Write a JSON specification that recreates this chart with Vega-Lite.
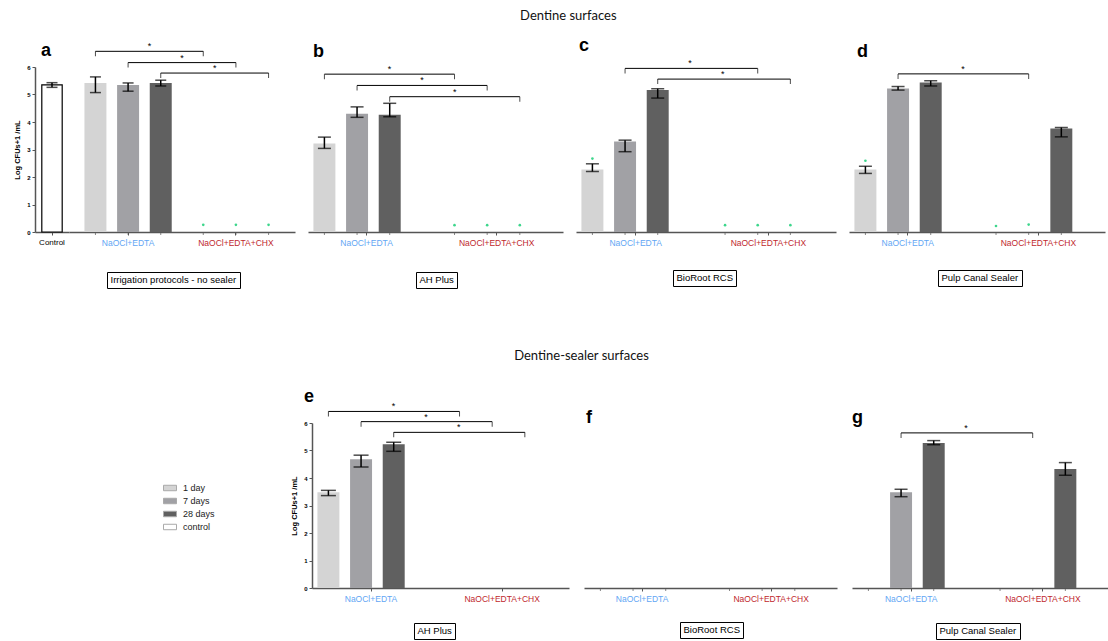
{
  "$schema": "https://vega.github.io/schema/vega-lite/v6.json",
  "padding": {"left": 13, "top": 10, "right": 0, "bottom": 0},
  "background": "white",
  "datasets": {
    "bars": [
      {"panel": "a", "group": "Control", "time": "control", "mean": 5.35, "lo": 5.26, "hi": 5.43},
      {"panel": "a", "group": "NaOCl+EDTA", "time": "1 day", "mean": 5.42, "lo": 5.07, "hi": 5.64},
      {"panel": "a", "group": "NaOCl+EDTA", "time": "7 days", "mean": 5.35, "lo": 5.12, "hi": 5.42},
      {"panel": "a", "group": "NaOCl+EDTA", "time": "28 days", "mean": 5.42, "lo": 5.31, "hi": 5.52},
      {"panel": "b", "group": "NaOCl+EDTA", "time": "1 day", "mean": 3.22, "lo": 3.04, "hi": 3.45},
      {"panel": "b", "group": "NaOCl+EDTA", "time": "7 days", "mean": 4.30, "lo": 4.17, "hi": 4.55},
      {"panel": "b", "group": "NaOCl+EDTA", "time": "28 days", "mean": 4.26, "lo": 4.19, "hi": 4.68},
      {"panel": "c", "group": "NaOCl+EDTA", "time": "1 day", "mean": 2.27, "lo": 2.20, "hi": 2.48},
      {"panel": "c", "group": "NaOCl+EDTA", "time": "7 days", "mean": 3.29, "lo": 2.92, "hi": 3.34},
      {"panel": "c", "group": "NaOCl+EDTA", "time": "28 days", "mean": 5.16, "lo": 4.87, "hi": 5.21},
      {"panel": "d", "group": "NaOCl+EDTA", "time": "1 day", "mean": 2.27, "lo": 2.13, "hi": 2.39},
      {"panel": "d", "group": "NaOCl+EDTA", "time": "7 days", "mean": 5.22, "lo": 5.16, "hi": 5.29},
      {"panel": "d", "group": "NaOCl+EDTA", "time": "28 days", "mean": 5.44, "lo": 5.31, "hi": 5.50},
      {"panel": "d", "group": "NaOCl+EDTA+CHX", "time": "28 days", "mean": 3.76, "lo": 3.46, "hi": 3.80},
      {"panel": "e", "group": "NaOCl+EDTA", "time": "1 day", "mean": 3.48, "lo": 3.36, "hi": 3.55},
      {"panel": "e", "group": "NaOCl+EDTA", "time": "7 days", "mean": 4.68, "lo": 4.40, "hi": 4.83},
      {"panel": "e", "group": "NaOCl+EDTA", "time": "28 days", "mean": 5.23, "lo": 4.97, "hi": 5.30},
      {"panel": "g", "group": "NaOCl+EDTA", "time": "7 days", "mean": 3.48, "lo": 3.32, "hi": 3.59},
      {"panel": "g", "group": "NaOCl+EDTA", "time": "28 days", "mean": 5.27, "lo": 5.21, "hi": 5.36},
      {"panel": "g", "group": "NaOCl+EDTA+CHX", "time": "28 days", "mean": 4.33, "lo": 4.10, "hi": 4.56}
    ],
    "slots": [
      {"group": "NaOCl+EDTA", "time": "1 day"},
      {"group": "NaOCl+EDTA", "time": "7 days"},
      {"group": "NaOCl+EDTA", "time": "28 days"},
      {"group": "NaOCl+EDTA+CHX", "time": "1 day"},
      {"group": "NaOCl+EDTA+CHX", "time": "7 days"},
      {"group": "NaOCl+EDTA+CHX", "time": "28 days"}
    ],
    "dots": [
      {"panel": "a", "group": "NaOCl+EDTA+CHX", "time": "1 day", "value": 0.26},
      {"panel": "a", "group": "NaOCl+EDTA+CHX", "time": "7 days", "value": 0.26},
      {"panel": "a", "group": "NaOCl+EDTA+CHX", "time": "28 days", "value": 0.26},
      {"panel": "b", "group": "NaOCl+EDTA+CHX", "time": "1 day", "value": 0.25},
      {"panel": "b", "group": "NaOCl+EDTA+CHX", "time": "7 days", "value": 0.25},
      {"panel": "b", "group": "NaOCl+EDTA+CHX", "time": "28 days", "value": 0.25},
      {"panel": "c", "group": "NaOCl+EDTA", "time": "1 day", "value": 2.67},
      {"panel": "c", "group": "NaOCl+EDTA+CHX", "time": "1 day", "value": 0.25},
      {"panel": "c", "group": "NaOCl+EDTA+CHX", "time": "7 days", "value": 0.25},
      {"panel": "c", "group": "NaOCl+EDTA+CHX", "time": "28 days", "value": 0.25},
      {"panel": "d", "group": "NaOCl+EDTA", "time": "1 day", "value": 2.59},
      {"panel": "d", "group": "NaOCl+EDTA+CHX", "time": "1 day", "value": 0.22},
      {"panel": "d", "group": "NaOCl+EDTA+CHX", "time": "7 days", "value": 0.27}
    ],
    "brackets": [
      {"panel": "a", "id": "a1", "group": "NaOCl+EDTA", "time": "1 day", "level": 6.57},
      {"panel": "a", "id": "a1", "group": "NaOCl+EDTA+CHX", "time": "1 day", "level": 6.57},
      {"panel": "a", "id": "a2", "group": "NaOCl+EDTA", "time": "7 days", "level": 6.16},
      {"panel": "a", "id": "a2", "group": "NaOCl+EDTA+CHX", "time": "7 days", "level": 6.16},
      {"panel": "a", "id": "a3", "group": "NaOCl+EDTA", "time": "28 days", "level": 5.78},
      {"panel": "a", "id": "a3", "group": "NaOCl+EDTA+CHX", "time": "28 days", "level": 5.78},
      {"panel": "b", "id": "b1", "group": "NaOCl+EDTA", "time": "1 day", "level": 5.74},
      {"panel": "b", "id": "b1", "group": "NaOCl+EDTA+CHX", "time": "1 day", "level": 5.74},
      {"panel": "b", "id": "b2", "group": "NaOCl+EDTA", "time": "7 days", "level": 5.33},
      {"panel": "b", "id": "b2", "group": "NaOCl+EDTA+CHX", "time": "7 days", "level": 5.33},
      {"panel": "b", "id": "b3", "group": "NaOCl+EDTA", "time": "28 days", "level": 4.92},
      {"panel": "b", "id": "b3", "group": "NaOCl+EDTA+CHX", "time": "28 days", "level": 4.92},
      {"panel": "c", "id": "c1", "group": "NaOCl+EDTA", "time": "7 days", "level": 5.95},
      {"panel": "c", "id": "c1", "group": "NaOCl+EDTA+CHX", "time": "7 days", "level": 5.95},
      {"panel": "c", "id": "c2", "group": "NaOCl+EDTA", "time": "28 days", "level": 5.56},
      {"panel": "c", "id": "c2", "group": "NaOCl+EDTA+CHX", "time": "28 days", "level": 5.56},
      {"panel": "d", "id": "d1", "group": "NaOCl+EDTA", "time": "7 days", "level": 5.75},
      {"panel": "d", "id": "d1", "group": "NaOCl+EDTA+CHX", "time": "7 days", "level": 5.75},
      {"panel": "e", "id": "e1", "group": "NaOCl+EDTA", "time": "1 day", "level": 6.42},
      {"panel": "e", "id": "e1", "group": "NaOCl+EDTA+CHX", "time": "1 day", "level": 6.42},
      {"panel": "e", "id": "e2", "group": "NaOCl+EDTA", "time": "7 days", "level": 6.05},
      {"panel": "e", "id": "e2", "group": "NaOCl+EDTA+CHX", "time": "7 days", "level": 6.05},
      {"panel": "e", "id": "e3", "group": "NaOCl+EDTA", "time": "28 days", "level": 5.66},
      {"panel": "e", "id": "e3", "group": "NaOCl+EDTA+CHX", "time": "28 days", "level": 5.66},
      {"panel": "g", "id": "g1", "group": "NaOCl+EDTA", "time": "7 days", "level": 5.64},
      {"panel": "g", "id": "g1", "group": "NaOCl+EDTA+CHX", "time": "7 days", "level": 5.64}
    ]
  },
  "config": {
    "view": {"stroke": null},
    "font": "Liberation Sans",
    "axis": {"domainColor": "#555555", "domainWidth": 1.5, "tickColor": "#555555", "tickWidth": 1, "tickSize": 3, "labelFont": "Liberation Sans", "titleFont": "Liberation Sans", "grid": false, "labelOverlap": false},
    "axisX": {"labelAngle": 0, "labelFontSize": 8.5, "labelPadding": 3, "title": null},
    "axisY": {"labelFontSize": 6, "labelFontWeight": "bold", "labelColor": "#000000", "labelPadding": 2, "labelOverlap": false, "labelBound": false, "titleFontSize": 7.5, "titleFontWeight": "bold", "titlePadding": 5, "titleColor": "#000000"}
  },
  "spacing": 61,
  "resolve": {"scale": {"x": "independent", "y": "independent", "fill": "independent", "shape": "independent"}, "legend": {"fill": "independent", "shape": "independent"}},
  "vconcat": [
    {
      "title": {"text": "Dentine surfaces", "anchor": "middle", "font": "Lato", "fontSize": 13, "fontWeight": "normal", "color": "#111111", "offset": 14, "dx": 9},
      "spacing": 13,
      "resolve": {"scale": {"x": "independent", "y": "independent", "fill": "independent", "shape": "independent"}, "legend": {"fill": "independent", "shape": "independent"}},
      "hconcat": [
        {
          "spacing": 0,
          "resolve": {"scale": {"x": "independent", "y": "independent", "fill": "independent", "shape": "independent"}, "legend": {"fill": "independent", "shape": "independent"}},
          "hconcat": [
            {
              "width": 34, "height": 165,
              "title": {"text": "a", "anchor": "start", "frame": "group", "font": "Liberation Sans", "fontSize": 18, "fontWeight": "bold", "color": "#000000", "dx": 6, "dy": 2, "offset": 6},
              "data": {"name": "bars"},
              "transform": [{"filter": "datum.panel == 'a' && datum.group == 'Control'"}],
              "encoding": {
                "x": {"field": "group", "type": "nominal", "scale": {"domain": ["Control"], "paddingInner": 0.4, "paddingOuter": 0.2}, "axis": {"title": null, "labelColor": "#000000", "labelFontSize": 8}},
                "y": {"field": "mean", "type": "quantitative", "scale": {"domain": [0, 6], "nice": false}, "axis": {"title": "Log CFUs+1 /mL", "tickCount": 6, "labelOverlap": false}}
              },
              "layer": [
                {"mark": {"type": "bar", "fill": "#ffffff", "stroke": "#000000", "strokeWidth": 1.2}},
                {"mark": {"type": "rule", "color": "#000000", "strokeWidth": 1.5},
                 "encoding": {"y": {"field": "lo", "type": "quantitative"}, "y2": {"field": "hi"}}},
                {"mark": {"type": "tick", "orient": "horizontal", "size": 11, "thickness": 1.5, "color": "#000000"},
                 "encoding": {"y": {"field": "lo", "type": "quantitative"}}},
                {"mark": {"type": "tick", "orient": "horizontal", "size": 11, "thickness": 1.5, "color": "#000000"},
                 "encoding": {"y": {"field": "hi", "type": "quantitative"}}}
              ]
            },
            {
              "width": 226, "height": 165,
              "encoding": {
                "x": {"field": "group", "type": "nominal", "scale": {"domain": ["NaOCl+EDTA", "NaOCl+EDTA+CHX"], "paddingInner": 0.09, "paddingOuter": 0.093},
                      "axis": {"title": null, "labelColor": {"condition": {"test": "datum.value === 'NaOCl+EDTA'", "value": "#62a6f4"}, "value": "#c0282d"}}},
                "xOffset": {"field": "time", "type": "nominal", "scale": {"domain": ["1 day", "7 days", "28 days"], "paddingInner": 0.327, "paddingOuter": 0.166}}
              },
              "layer": [
                {"data": {"name": "bars"}, "transform": [{"filter": "datum.panel == 'a' && datum.group != 'Control'"}],
                 "mark": {"type": "bar"},
                 "encoding": {"y": {"field": "mean", "type": "quantitative", "scale": {"domain": [0, 6], "nice": false}, "axis": null},
                              "fill": {"field": "time", "type": "nominal", "scale": {"domain": ["1 day", "7 days", "28 days", "control"], "range": ["#d4d4d4", "#a1a1a5", "#606060", "#ffffff"]}, "legend": null}}},
                {"data": {"name": "slots"},
                 "mark": {"type": "tick", "orient": "vertical", "size": 3, "thickness": 1, "yOffset": 1.5, "color": "#555555"},
                 "encoding": {"y": {"datum": 0, "type": "quantitative"}}},
                {"data": {"name": "bars"}, "transform": [{"filter": "datum.panel == 'a' && datum.group != 'Control'"}],
                 "mark": {"type": "rule", "color": "#000000", "strokeWidth": 1.5},
                 "encoding": {"y": {"field": "lo", "type": "quantitative"}, "y2": {"field": "hi"}}},
                {"data": {"name": "bars"}, "transform": [{"filter": "datum.panel == 'a' && datum.group != 'Control'"}],
                 "mark": {"type": "tick", "orient": "horizontal", "size": 11, "thickness": 1.5, "color": "#000000"},
                 "encoding": {"y": {"field": "lo", "type": "quantitative"}}},
                {"data": {"name": "bars"}, "transform": [{"filter": "datum.panel == 'a' && datum.group != 'Control'"}],
                 "mark": {"type": "tick", "orient": "horizontal", "size": 11, "thickness": 1.5, "color": "#000000"},
                 "encoding": {"y": {"field": "hi", "type": "quantitative"}}},
                {"data": {"name": "dots"}, "transform": [{"filter": "datum.panel == 'a'"}],
                 "mark": {"type": "point", "filled": true, "size": 7, "color": "#3dd68c", "opacity": 1},
                 "encoding": {"y": {"field": "value", "type": "quantitative"},
                              "shape": {"datum": "Irrigation protocols - no sealer", "scale": {"domain": ["Irrigation protocols - no sealer"], "range": ["circle"]},
                                        "legend": {"orient": "none", "legendX": 38, "legendY": 205, "title": null, "strokeColor": "#000000", "fillColor": "#ffffff", "padding": 3, "symbolSize": 0, "symbolOpacity": 0, "symbolStrokeWidth": 0, "labelOffset": -9, "labelFontSize": 9.5, "labelFont": "Liberation Sans", "labelColor": "#000000"}}}},
                {"data": {"name": "brackets"}, "transform": [{"filter": "datum.panel == 'a'"}],
                 "mark": {"type": "line", "color": "#000000", "strokeWidth": 1},
                 "encoding": {"y": {"field": "level", "type": "quantitative"}, "detail": {"field": "id", "type": "nominal"}}},
                {"data": {"name": "brackets"}, "transform": [{"filter": "datum.panel == 'a'"}],
                 "mark": {"type": "tick", "orient": "vertical", "size": 5, "thickness": 1, "yOffset": 2.5, "color": "#000000"},
                 "encoding": {"y": {"field": "level", "type": "quantitative"}}},
                {"data": {"name": "brackets"}, "transform": [{"filter": "datum.panel == 'a' && datum.group == 'NaOCl+EDTA'"}],
                 "mark": {"type": "text", "text": "*", "dx": 54, "dy": -2, "fontSize": 9, "baseline": "alphabetic", "color": "#000000"},
                 "encoding": {"y": {"field": "level", "type": "quantitative"}}}
              ]
            }
          ]
        },
        {
          "width": 255, "height": 165,
          "title": {"text": "b", "anchor": "start", "frame": "group", "font": "Liberation Sans", "fontSize": 18, "fontWeight": "bold", "color": "#000000", "dx": 5, "dy": 2, "offset": 6},
          "encoding": {
            "x": {"field": "group", "type": "nominal", "scale": {"domain": ["NaOCl+EDTA", "NaOCl+EDTA+CHX"], "paddingInner": 0.1, "paddingOuter": 0.03, "align": 0},
                  "axis": {"title": null, "labelColor": {"condition": {"test": "datum.value === 'NaOCl+EDTA'", "value": "#62a6f4"}, "value": "#c0282d"}}},
            "xOffset": {"field": "time", "type": "nominal", "scale": {"domain": ["1 day", "7 days", "28 days"], "paddingInner": 0.31, "paddingOuter": 0.155}}
          },
          "layer": [
            {"data": {"name": "bars"}, "transform": [{"filter": "datum.panel == 'b'"}],
             "mark": {"type": "bar"},
             "encoding": {"y": {"field": "mean", "type": "quantitative", "scale": {"domain": [0, 6], "nice": false}, "axis": null},
                          "fill": {"field": "time", "type": "nominal", "scale": {"domain": ["1 day", "7 days", "28 days", "control"], "range": ["#d4d4d4", "#a1a1a5", "#606060", "#ffffff"]}, "legend": null}}},
            {"data": {"name": "slots"},
             "mark": {"type": "tick", "orient": "vertical", "size": 3, "thickness": 1, "yOffset": 1.5, "color": "#555555"},
             "encoding": {"y": {"datum": 0, "type": "quantitative"}}},
            {"data": {"name": "bars"}, "transform": [{"filter": "datum.panel == 'b'"}],
             "mark": {"type": "rule", "color": "#000000", "strokeWidth": 1.5},
             "encoding": {"y": {"field": "lo", "type": "quantitative"}, "y2": {"field": "hi"}}},
            {"data": {"name": "bars"}, "transform": [{"filter": "datum.panel == 'b'"}],
             "mark": {"type": "tick", "orient": "horizontal", "size": 13, "thickness": 1.5, "color": "#000000"},
             "encoding": {"y": {"field": "lo", "type": "quantitative"}}},
            {"data": {"name": "bars"}, "transform": [{"filter": "datum.panel == 'b'"}],
             "mark": {"type": "tick", "orient": "horizontal", "size": 13, "thickness": 1.5, "color": "#000000"},
             "encoding": {"y": {"field": "hi", "type": "quantitative"}}},
            {"data": {"name": "dots"}, "transform": [{"filter": "datum.panel == 'b'"}],
             "mark": {"type": "point", "filled": true, "size": 7, "color": "#3dd68c", "opacity": 1},
             "encoding": {"y": {"field": "value", "type": "quantitative"},
                          "shape": {"datum": "AH Plus", "scale": {"domain": ["AH Plus"], "range": ["circle"]},
                                    "legend": {"orient": "none", "legendX": 108, "legendY": 205, "title": null, "strokeColor": "#000000", "fillColor": "#ffffff", "padding": 3, "symbolSize": 0, "symbolOpacity": 0, "symbolStrokeWidth": 0, "labelOffset": -9, "labelFontSize": 9.5, "labelFont": "Liberation Sans", "labelColor": "#000000"}}}},
            {"data": {"name": "brackets"}, "transform": [{"filter": "datum.panel == 'b'"}],
             "mark": {"type": "line", "color": "#000000", "strokeWidth": 1},
             "encoding": {"y": {"field": "level", "type": "quantitative"}, "detail": {"field": "id", "type": "nominal"}}},
            {"data": {"name": "brackets"}, "transform": [{"filter": "datum.panel == 'b'"}],
             "mark": {"type": "tick", "orient": "vertical", "size": 5, "thickness": 1, "yOffset": 2.5, "color": "#000000"},
             "encoding": {"y": {"field": "level", "type": "quantitative"}}},
            {"data": {"name": "brackets"}, "transform": [{"filter": "datum.panel == 'b' && datum.group == 'NaOCl+EDTA'"}],
             "mark": {"type": "text", "text": "*", "dx": 65, "dy": -2, "fontSize": 9, "baseline": "alphabetic", "color": "#000000"},
             "encoding": {"y": {"field": "level", "type": "quantitative"}}}
          ]
        },
        {
          "width": 260, "height": 165,
          "title": {"text": "c", "anchor": "start", "frame": "group", "font": "Liberation Sans", "fontSize": 18, "fontWeight": "bold", "color": "#000000", "dx": 3, "dy": 2, "offset": 6},
          "encoding": {
            "x": {"field": "group", "type": "nominal", "scale": {"domain": ["NaOCl+EDTA", "NaOCl+EDTA+CHX"], "paddingInner": 0.1, "paddingOuter": 0.03, "align": 0},
                  "axis": {"title": null, "labelColor": {"condition": {"test": "datum.value === 'NaOCl+EDTA'", "value": "#62a6f4"}, "value": "#c0282d"}}},
            "xOffset": {"field": "time", "type": "nominal", "scale": {"domain": ["1 day", "7 days", "28 days"], "paddingInner": 0.31, "paddingOuter": 0.155}}
          },
          "layer": [
            {"data": {"name": "bars"}, "transform": [{"filter": "datum.panel == 'c'"}],
             "mark": {"type": "bar"},
             "encoding": {"y": {"field": "mean", "type": "quantitative", "scale": {"domain": [0, 6], "nice": false}, "axis": null},
                          "fill": {"field": "time", "type": "nominal", "scale": {"domain": ["1 day", "7 days", "28 days", "control"], "range": ["#d4d4d4", "#a1a1a5", "#606060", "#ffffff"]}, "legend": null}}},
            {"data": {"name": "slots"},
             "mark": {"type": "tick", "orient": "vertical", "size": 3, "thickness": 1, "yOffset": 1.5, "color": "#555555"},
             "encoding": {"y": {"datum": 0, "type": "quantitative"}}},
            {"data": {"name": "bars"}, "transform": [{"filter": "datum.panel == 'c'"}],
             "mark": {"type": "rule", "color": "#000000", "strokeWidth": 1.5},
             "encoding": {"y": {"field": "lo", "type": "quantitative"}, "y2": {"field": "hi"}}},
            {"data": {"name": "bars"}, "transform": [{"filter": "datum.panel == 'c'"}],
             "mark": {"type": "tick", "orient": "horizontal", "size": 13, "thickness": 1.5, "color": "#000000"},
             "encoding": {"y": {"field": "lo", "type": "quantitative"}}},
            {"data": {"name": "bars"}, "transform": [{"filter": "datum.panel == 'c'"}],
             "mark": {"type": "tick", "orient": "horizontal", "size": 13, "thickness": 1.5, "color": "#000000"},
             "encoding": {"y": {"field": "hi", "type": "quantitative"}}},
            {"data": {"name": "dots"}, "transform": [{"filter": "datum.panel == 'c'"}],
             "mark": {"type": "point", "filled": true, "size": 7, "color": "#3dd68c", "opacity": 1},
             "encoding": {"y": {"field": "value", "type": "quantitative"},
                          "shape": {"datum": "BioRoot RCS", "scale": {"domain": ["BioRoot RCS"], "range": ["circle"]},
                                    "legend": {"orient": "none", "legendX": 97, "legendY": 203, "title": null, "strokeColor": "#000000", "fillColor": "#ffffff", "padding": 3, "symbolSize": 0, "symbolOpacity": 0, "symbolStrokeWidth": 0, "labelOffset": -9, "labelFontSize": 9.5, "labelFont": "Liberation Sans", "labelColor": "#000000"}}}},
            {"data": {"name": "brackets"}, "transform": [{"filter": "datum.panel == 'c'"}],
             "mark": {"type": "line", "color": "#000000", "strokeWidth": 1},
             "encoding": {"y": {"field": "level", "type": "quantitative"}, "detail": {"field": "id", "type": "nominal"}}},
            {"data": {"name": "brackets"}, "transform": [{"filter": "datum.panel == 'c'"}],
             "mark": {"type": "tick", "orient": "vertical", "size": 5, "thickness": 1, "yOffset": 2.5, "color": "#000000"},
             "encoding": {"y": {"field": "level", "type": "quantitative"}}},
            {"data": {"name": "brackets"}, "transform": [{"filter": "datum.panel == 'c' && datum.group == 'NaOCl+EDTA'"}],
             "mark": {"type": "text", "text": "*", "dx": 65, "dy": -2, "fontSize": 9, "baseline": "alphabetic", "color": "#000000"},
             "encoding": {"y": {"field": "level", "type": "quantitative"}}}
          ]
        },
        {
          "width": 256, "height": 165,
          "title": {"text": "d", "anchor": "start", "frame": "group", "font": "Liberation Sans", "fontSize": 18, "fontWeight": "bold", "color": "#000000", "dx": 8, "dy": 2, "offset": 6},
          "encoding": {
            "x": {"field": "group", "type": "nominal", "scale": {"domain": ["NaOCl+EDTA", "NaOCl+EDTA+CHX"], "paddingInner": 0.1, "paddingOuter": 0.03, "align": 0},
                  "axis": {"title": null, "labelColor": {"condition": {"test": "datum.value === 'NaOCl+EDTA'", "value": "#62a6f4"}, "value": "#c0282d"}}},
            "xOffset": {"field": "time", "type": "nominal", "scale": {"domain": ["1 day", "7 days", "28 days"], "paddingInner": 0.31, "paddingOuter": 0.155}}
          },
          "layer": [
            {"data": {"name": "bars"}, "transform": [{"filter": "datum.panel == 'd'"}],
             "mark": {"type": "bar"},
             "encoding": {"y": {"field": "mean", "type": "quantitative", "scale": {"domain": [0, 6], "nice": false}, "axis": null},
                          "fill": {"field": "time", "type": "nominal", "scale": {"domain": ["1 day", "7 days", "28 days", "control"], "range": ["#d4d4d4", "#a1a1a5", "#606060", "#ffffff"]}, "legend": null}}},
            {"data": {"name": "slots"},
             "mark": {"type": "tick", "orient": "vertical", "size": 3, "thickness": 1, "yOffset": 1.5, "color": "#555555"},
             "encoding": {"y": {"datum": 0, "type": "quantitative"}}},
            {"data": {"name": "bars"}, "transform": [{"filter": "datum.panel == 'd'"}],
             "mark": {"type": "rule", "color": "#000000", "strokeWidth": 1.5},
             "encoding": {"y": {"field": "lo", "type": "quantitative"}, "y2": {"field": "hi"}}},
            {"data": {"name": "bars"}, "transform": [{"filter": "datum.panel == 'd'"}],
             "mark": {"type": "tick", "orient": "horizontal", "size": 13, "thickness": 1.5, "color": "#000000"},
             "encoding": {"y": {"field": "lo", "type": "quantitative"}}},
            {"data": {"name": "bars"}, "transform": [{"filter": "datum.panel == 'd'"}],
             "mark": {"type": "tick", "orient": "horizontal", "size": 13, "thickness": 1.5, "color": "#000000"},
             "encoding": {"y": {"field": "hi", "type": "quantitative"}}},
            {"data": {"name": "dots"}, "transform": [{"filter": "datum.panel == 'd'"}],
             "mark": {"type": "point", "filled": true, "size": 7, "color": "#3dd68c", "opacity": 1},
             "encoding": {"y": {"field": "value", "type": "quantitative"},
                          "shape": {"datum": "Pulp Canal Sealer", "scale": {"domain": ["Pulp Canal Sealer"], "range": ["circle"]},
                                    "legend": {"orient": "none", "legendX": 89, "legendY": 203, "title": null, "strokeColor": "#000000", "fillColor": "#ffffff", "padding": 3, "symbolSize": 0, "symbolOpacity": 0, "symbolStrokeWidth": 0, "labelOffset": -9, "labelFontSize": 9.5, "labelFont": "Liberation Sans", "labelColor": "#000000"}}}},
            {"data": {"name": "brackets"}, "transform": [{"filter": "datum.panel == 'd'"}],
             "mark": {"type": "line", "color": "#000000", "strokeWidth": 1},
             "encoding": {"y": {"field": "level", "type": "quantitative"}, "detail": {"field": "id", "type": "nominal"}}},
            {"data": {"name": "brackets"}, "transform": [{"filter": "datum.panel == 'd'"}],
             "mark": {"type": "tick", "orient": "vertical", "size": 5, "thickness": 1, "yOffset": 2.5, "color": "#000000"},
             "encoding": {"y": {"field": "level", "type": "quantitative"}}},
            {"data": {"name": "brackets"}, "transform": [{"filter": "datum.panel == 'd' && datum.group == 'NaOCl+EDTA'"}],
             "mark": {"type": "text", "text": "*", "dx": 65, "dy": -2, "fontSize": 9, "baseline": "alphabetic", "color": "#000000"},
             "encoding": {"y": {"field": "level", "type": "quantitative"}}}
          ]
        }
      ]
    },
    {
      "title": {"text": "Dentine-sealer surfaces", "anchor": "middle", "font": "Lato", "fontSize": 13, "fontWeight": "normal", "color": "#111111", "offset": 25, "dx": 9},
      "spacing": 15,
      "resolve": {"scale": {"x": "independent", "y": "independent", "fill": "independent", "shape": "independent"}, "legend": {"fill": "independent", "shape": "independent"}},
      "hconcat": [
        {
          "width": 240, "height": 165,
          "data": {"name": "bars"},
          "transform": [{"filter": "datum.panel == 'a'"}],
          "mark": {"type": "bar"},
          "encoding": {
            "x": {"field": "time", "type": "nominal", "axis": null},
            "y": {"datum": 0, "type": "quantitative", "scale": {"domain": [0, 6], "nice": false}, "axis": null},
            "fill": {"field": "time", "type": "nominal", "scale": {"domain": ["1 day", "7 days", "28 days", "control"], "range": ["#d4d4d4", "#a1a1a5", "#606060", "#ffffff"]},
                     "legend": {"orient": "none", "legendX": 128, "legendY": 58, "title": null, "symbolType": "M-1,-0.42H1V0.42H-1Z", "symbolSize": 169, "symbolStrokeColor": "#aaaaaa", "symbolStrokeWidth": 1, "labelFontSize": 9, "labelFont": "Liberation Sans", "labelColor": "#222222", "rowPadding": 1, "labelOffset": 6}}
          }
        },
        {
          "width": 257, "height": 165,
          "title": {"text": "e", "anchor": "start", "frame": "group", "font": "Liberation Sans", "fontSize": 18, "fontWeight": "bold", "color": "#000000", "dx": -8, "dy": 10, "offset": 6},
          "encoding": {
            "x": {"field": "group", "type": "nominal", "scale": {"domain": ["NaOCl+EDTA", "NaOCl+EDTA+CHX"], "paddingInner": 0.1, "paddingOuter": 0.03, "align": 0},
                  "axis": {"title": null, "labelColor": {"condition": {"test": "datum.value === 'NaOCl+EDTA'", "value": "#62a6f4"}, "value": "#c0282d"}}},
            "xOffset": {"field": "time", "type": "nominal", "scale": {"domain": ["1 day", "7 days", "28 days"], "paddingInner": 0.31, "paddingOuter": 0.155}},
            "y": {"field": "mean", "type": "quantitative", "scale": {"domain": [0, 6], "nice": false}, "axis": {"title": "Log CFUs+1 /mL", "tickCount": 6, "labelOverlap": false}}
          },
          "layer": [
            {"data": {"name": "bars"}, "transform": [{"filter": "datum.panel == 'e'"}],
             "mark": {"type": "bar"},
             "encoding": {"fill": {"field": "time", "type": "nominal", "scale": {"domain": ["1 day", "7 days", "28 days", "control"], "range": ["#d4d4d4", "#a1a1a5", "#606060", "#ffffff"]}, "legend": null}}},
            {"data": {"name": "slots"},
             "mark": {"type": "tick", "orient": "vertical", "size": 3, "thickness": 1, "yOffset": 1.5, "color": "#555555"},
             "encoding": {"y": {"datum": 0, "type": "quantitative"}}},
            {"data": {"name": "bars"}, "transform": [{"filter": "datum.panel == 'e'"}],
             "mark": {"type": "rule", "color": "#000000", "strokeWidth": 1.5},
             "encoding": {"y": {"field": "lo", "type": "quantitative"}, "y2": {"field": "hi"}}},
            {"data": {"name": "bars"}, "transform": [{"filter": "datum.panel == 'e'"}],
             "mark": {"type": "tick", "orient": "horizontal", "size": 15, "thickness": 1.5, "color": "#000000"},
             "encoding": {"y": {"field": "lo", "type": "quantitative"}}},
            {"data": {"name": "bars"}, "transform": [{"filter": "datum.panel == 'e'"}],
             "mark": {"type": "tick", "orient": "horizontal", "size": 15, "thickness": 1.5, "color": "#000000"},
             "encoding": {"y": {"field": "hi", "type": "quantitative"}}},
            {"data": {"name": "dots"}, "transform": [{"filter": "datum.panel == 'e'"}],
             "mark": {"type": "point", "filled": true, "size": 7, "color": "#3dd68c", "opacity": 1},
             "encoding": {"y": {"field": "value", "type": "quantitative"},
                          "shape": {"datum": "AH Plus", "scale": {"domain": ["AH Plus"], "range": ["circle"]},
                                    "legend": {"orient": "none", "legendX": 102, "legendY": 200, "title": null, "strokeColor": "#000000", "fillColor": "#ffffff", "padding": 3, "symbolSize": 0, "symbolOpacity": 0, "symbolStrokeWidth": 0, "labelOffset": -9, "labelFontSize": 9.5, "labelFont": "Liberation Sans", "labelColor": "#000000"}}}},
            {"data": {"name": "brackets"}, "transform": [{"filter": "datum.panel == 'e'"}],
             "mark": {"type": "line", "color": "#000000", "strokeWidth": 1},
             "encoding": {"y": {"field": "level", "type": "quantitative"}, "detail": {"field": "id", "type": "nominal"}}},
            {"data": {"name": "brackets"}, "transform": [{"filter": "datum.panel == 'e'"}],
             "mark": {"type": "tick", "orient": "vertical", "size": 5, "thickness": 1, "yOffset": 2.5, "color": "#000000"},
             "encoding": {"y": {"field": "level", "type": "quantitative"}}},
            {"data": {"name": "brackets"}, "transform": [{"filter": "datum.panel == 'e' && datum.group == 'NaOCl+EDTA'"}],
             "mark": {"type": "text", "text": "*", "dx": 65, "dy": -2, "fontSize": 9, "baseline": "alphabetic", "color": "#000000"},
             "encoding": {"y": {"field": "level", "type": "quantitative"}}}
          ]
        },
        {
          "width": 253, "height": 165,
          "title": {"text": "f", "anchor": "start", "frame": "group", "font": "Liberation Sans", "fontSize": 18, "fontWeight": "bold", "color": "#000000", "dx": 2, "dy": 10, "offset": 6},
          "encoding": {
            "x": {"field": "group", "type": "nominal", "scale": {"domain": ["NaOCl+EDTA", "NaOCl+EDTA+CHX"], "paddingInner": 0.1, "paddingOuter": 0.03, "align": 0},
                  "axis": {"title": null, "labelColor": {"condition": {"test": "datum.value === 'NaOCl+EDTA'", "value": "#62a6f4"}, "value": "#c0282d"}}},
            "xOffset": {"field": "time", "type": "nominal", "scale": {"domain": ["1 day", "7 days", "28 days"], "paddingInner": 0.31, "paddingOuter": 0.155}}
          },
          "layer": [
            {"data": {"name": "slots"},
             "mark": {"type": "tick", "orient": "vertical", "size": 3, "thickness": 1, "yOffset": 1.5, "color": "#555555"},
             "encoding": {"y": {"datum": 0, "type": "quantitative", "scale": {"domain": [0, 6], "nice": false}, "axis": null}}},
            {"data": {"name": "dots"}, "transform": [{"filter": "datum.panel == 'f'"}],
             "mark": {"type": "point", "filled": true, "size": 7, "color": "#3dd68c", "opacity": 1},
             "encoding": {"y": {"field": "value", "type": "quantitative"},
                          "shape": {"datum": "BioRoot RCS", "scale": {"domain": ["BioRoot RCS"], "range": ["circle"]},
                                    "legend": {"orient": "none", "legendX": 96, "legendY": 199, "title": null, "strokeColor": "#000000", "fillColor": "#ffffff", "padding": 3, "symbolSize": 0, "symbolOpacity": 0, "symbolStrokeWidth": 0, "labelOffset": -9, "labelFontSize": 9.5, "labelFont": "Liberation Sans", "labelColor": "#000000"}}}}
          ]
        },
        {
          "width": 258, "height": 165,
          "title": {"text": "g", "anchor": "start", "frame": "group", "font": "Liberation Sans", "fontSize": 18, "fontWeight": "bold", "color": "#000000", "dx": 0, "dy": 10, "offset": 6},
          "encoding": {
            "x": {"field": "group", "type": "nominal", "scale": {"domain": ["NaOCl+EDTA", "NaOCl+EDTA+CHX"], "paddingInner": 0.1, "paddingOuter": 0.03, "align": 0},
                  "axis": {"title": null, "labelColor": {"condition": {"test": "datum.value === 'NaOCl+EDTA'", "value": "#62a6f4"}, "value": "#c0282d"}}},
            "xOffset": {"field": "time", "type": "nominal", "scale": {"domain": ["1 day", "7 days", "28 days"], "paddingInner": 0.31, "paddingOuter": 0.155}}
          },
          "layer": [
            {"data": {"name": "bars"}, "transform": [{"filter": "datum.panel == 'g'"}],
             "mark": {"type": "bar"},
             "encoding": {"y": {"field": "mean", "type": "quantitative", "scale": {"domain": [0, 6], "nice": false}, "axis": null},
                          "fill": {"field": "time", "type": "nominal", "scale": {"domain": ["1 day", "7 days", "28 days", "control"], "range": ["#d4d4d4", "#a1a1a5", "#606060", "#ffffff"]}, "legend": null}}},
            {"data": {"name": "slots"},
             "mark": {"type": "tick", "orient": "vertical", "size": 3, "thickness": 1, "yOffset": 1.5, "color": "#555555"},
             "encoding": {"y": {"datum": 0, "type": "quantitative"}}},
            {"data": {"name": "bars"}, "transform": [{"filter": "datum.panel == 'g'"}],
             "mark": {"type": "rule", "color": "#000000", "strokeWidth": 1.5},
             "encoding": {"y": {"field": "lo", "type": "quantitative"}, "y2": {"field": "hi"}}},
            {"data": {"name": "bars"}, "transform": [{"filter": "datum.panel == 'g'"}],
             "mark": {"type": "tick", "orient": "horizontal", "size": 13, "thickness": 1.5, "color": "#000000"},
             "encoding": {"y": {"field": "lo", "type": "quantitative"}}},
            {"data": {"name": "bars"}, "transform": [{"filter": "datum.panel == 'g'"}],
             "mark": {"type": "tick", "orient": "horizontal", "size": 13, "thickness": 1.5, "color": "#000000"},
             "encoding": {"y": {"field": "hi", "type": "quantitative"}}},
            {"data": {"name": "dots"}, "transform": [{"filter": "datum.panel == 'g'"}],
             "mark": {"type": "point", "filled": true, "size": 7, "color": "#3dd68c", "opacity": 1},
             "encoding": {"y": {"field": "value", "type": "quantitative"},
                          "shape": {"datum": "Pulp Canal Sealer", "scale": {"domain": ["Pulp Canal Sealer"], "range": ["circle"]},
                                    "legend": {"orient": "none", "legendX": 84, "legendY": 200, "title": null, "strokeColor": "#000000", "fillColor": "#ffffff", "padding": 3, "symbolSize": 0, "symbolOpacity": 0, "symbolStrokeWidth": 0, "labelOffset": -9, "labelFontSize": 9.5, "labelFont": "Liberation Sans", "labelColor": "#000000"}}}},
            {"data": {"name": "brackets"}, "transform": [{"filter": "datum.panel == 'g'"}],
             "mark": {"type": "line", "color": "#000000", "strokeWidth": 1},
             "encoding": {"y": {"field": "level", "type": "quantitative"}, "detail": {"field": "id", "type": "nominal"}}},
            {"data": {"name": "brackets"}, "transform": [{"filter": "datum.panel == 'g'"}],
             "mark": {"type": "tick", "orient": "vertical", "size": 5, "thickness": 1, "yOffset": 2.5, "color": "#000000"},
             "encoding": {"y": {"field": "level", "type": "quantitative"}}},
            {"data": {"name": "brackets"}, "transform": [{"filter": "datum.panel == 'g' && datum.group == 'NaOCl+EDTA'"}],
             "mark": {"type": "text", "text": "*", "dx": 65, "dy": -2, "fontSize": 9, "baseline": "alphabetic", "color": "#000000"},
             "encoding": {"y": {"field": "level", "type": "quantitative"}}}
          ]
        }
      ]
    }
  ]
}
